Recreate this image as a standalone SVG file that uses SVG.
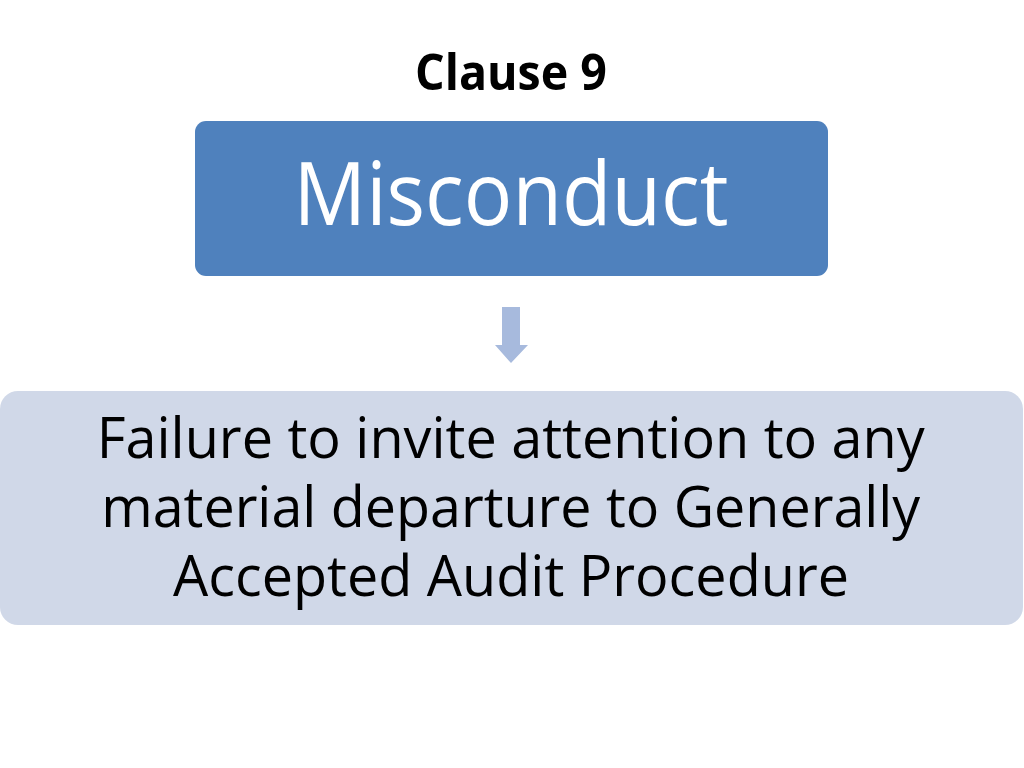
<svg xmlns="http://www.w3.org/2000/svg" width="1024" height="768" viewBox="0 0 1024 768">
<style>
.t{font-family:"Open Sans","Noto Sans","Liberation Sans",sans-serif;text-anchor:middle}
</style>
<rect width="1024" height="768" fill="#ffffff"/>
<text class="t" x="511" y="90" font-size="51" font-weight="bold" fill="#000" textLength="192" lengthAdjust="spacingAndGlyphs">Clause 9</text>
<g id="node-misconduct">
<rect x="195" y="121" width="633" height="155" rx="11" fill="#4F81BD"/>
<text class="t" x="511" y="225" font-size="88" fill="#fff" textLength="435" lengthAdjust="spacingAndGlyphs">Misconduct</text>
</g>
<g id="connectors">
<path d="M502,307 H520 V345 H528 L511,363 L495,345 H502 Z" fill="#A7BADD"/>
</g>
<g id="node-failure">
<rect x="0" y="391" width="1023" height="234" rx="18" fill="#D0D8E8"/>
<text class="t" font-size="56" fill="#000">
<tspan x="518" y="458" textLength="828" lengthAdjust="spacingAndGlyphs">Failure to invite attention to any</tspan>
<tspan x="518" y="527" textLength="819" lengthAdjust="spacingAndGlyphs">material departure to Generally</tspan>
<tspan x="511" y="596" textLength="676" lengthAdjust="spacingAndGlyphs">Accepted Audit Procedure</tspan>
</text>
</g>
</svg>
